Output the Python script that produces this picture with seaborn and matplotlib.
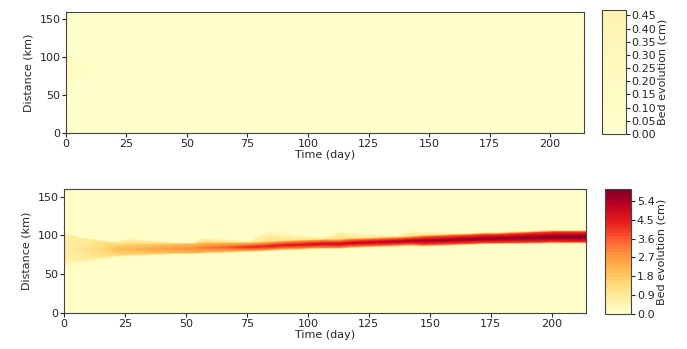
import numpy as np
import matplotlib
matplotlib.use("Agg")
import matplotlib.pyplot as plt
import seaborn as sns

# ---------------------------------------------------------------------------
# values (time anchors, band geometry in km, values in cm)
days   = [0, 8, 22, 26, 45, 53, 57, 76, 84, 88, 106, 113, 117, 136, 143, 147, 166, 173, 177, 200, 214]
centre = [84, 82, 82, 82, 83, 83, 84, 85, 86, 87, 89, 89, 90, 92, 93, 93, 95, 96, 96, 98, 98]
half_w = [16, 12, 6, 6, 5, 5, 5, 4, 4, 4, 4, 4, 4, 4, 4, 5, 5, 5, 5, 6, 6]
lower  = [56, 64, 72, 73, 76, 76, 77, 79, 80, 81, 83, 83, 84, 86, 87, 86, 88, 89, 89, 90, 90]
upper  = [102, 96, 92, 97, 90, 90, 98, 92, 109, 106, 97, 107, 105, 100, 107, 105, 103, 104, 104, 107, 107]

# lower panel (cm)
peak = [0.8, 1.0, 2.0, 2.1, 2.7, 2.9, 3.1, 4.1, 4.3, 4.4, 4.7, 4.8, 4.9, 5.1, 5.2, 5.3, 5.5, 5.6, 5.6, 5.8, 5.9]
edge = [0.6, 0.8, 1.5, 1.6, 2.0, 2.1, 2.2, 2.6, 2.7, 2.8, 3.0, 3.0, 3.1, 3.2, 3.3, 3.4, 3.6, 3.7, 3.7, 3.9, 4.0]
halo = [0.9, 0.8, 0.8, 1.2, 0.9, 0.9, 1.2, 0.8, 1.2, 1.1, 0.8, 1.2, 1.1, 0.8, 1.1, 1.0, 0.8, 0.9, 0.9, 0.8, 0.8]

# upper panel (cm), almost nothing happens
top_peak = [0.15, 0.10, 0.05, 0.03, 0.02, 0.02, 0.02, 0.02, 0.02, 0.02, 0.03, 0.04, 0.04, 0.03, 0.05, 0.05, 0.03, 0.04, 0.04, 0.03, 0.02]
top_edge = [0.12, 0.08, 0.03, 0.02, 0.01, 0.01, 0.01, 0.01, 0.01, 0.01, 0.02, 0.03, 0.03, 0.02, 0.03, 0.03, 0.02, 0.03, 0.03, 0.02, 0.01]
top_halo = [0.10, 0.06, 0.02, 0.01, 0.01, 0.01, 0.01, 0.01, 0.01, 0.01, 0.01, 0.02, 0.02, 0.01, 0.02, 0.02, 0.01, 0.02, 0.02, 0.01, 0.01]

xticks = [0, 25, 50, 75, 100, 125, 150, 175, 200]
yticks = [0, 50, 100, 150]
cb_top_ticks = [0.00, 0.05, 0.10, 0.15, 0.20, 0.25, 0.30, 0.35, 0.40, 0.45]
cb_bot_ticks = [0.0, 0.9, 1.8, 2.7, 3.6, 4.5, 5.4]


def build_field(pk, ed, ha):
    n = len(days)
    c = np.array(centre, float)
    w = np.array(half_w, float)
    X = np.tile(np.array(days, float), (8, 1))
    Y = np.vstack([np.zeros(n), lower, c - w, c, c + w, c + w + 2, upper, np.full(n, 160.0)])
    Z = np.vstack([np.zeros(n), np.zeros(n), ed, pk, ed, ha, np.zeros(n), np.zeros(n)])
    return X, Y, Z


# -----------------------------------------------------------------------------
sns.set_style("ticks")
plt.rcParams["font.family"] = ["DejaVu Sans"]
plt.rcParams["font.size"] = 8
plt.rcParams["axes.edgecolor"] = "#444444"

cmap = sns.color_palette("YlOrRd", as_cmap=True)
vmax = 5.95

fig = plt.figure(figsize=(6.87, 3.49), dpi=100)
ax1 = fig.add_axes([0.096, 0.619, 0.754, 0.347])
cax1 = fig.add_axes([0.876, 0.616, 0.035, 0.355])
ax2 = fig.add_axes([0.093, 0.103, 0.760, 0.356])
cax2 = fig.add_axes([0.880, 0.100, 0.039, 0.358])

X, Y, Z = build_field(top_peak, top_edge, top_halo)
cs1 = ax1.contourf(X, Y, Z, levels=np.linspace(0, 0.47, 48), cmap=cmap, vmin=0, vmax=vmax)

X, Y, Z = build_field(peak, edge, halo)
cs2 = ax2.contourf(X, Y, Z, levels=np.linspace(0, vmax, 41), cmap=cmap, vmin=0, vmax=vmax)

for ax in (ax1, ax2):
    ax.set_xlim(0, 214)
    ax.set_ylim(0, 160)
    ax.set_xticks(xticks)
    ax.set_yticks(yticks)
    ax.set_xlabel("Time (day)", labelpad=1)
    ax.set_ylabel("Distance (km)")
    ax.tick_params(labelsize=8, length=3, pad=1)

cb1 = fig.colorbar(cs1, cax=cax1, ticks=cb_top_ticks, format="%.2f")
cb1.set_label("Bed evolution (cm)", fontsize=8, labelpad=1)
cb2 = fig.colorbar(cs2, cax=cax2, ticks=cb_bot_ticks, format="%.1f")
cb2.set_label("Bed evolution (cm)", fontsize=8, labelpad=1)
for cb in (cb1, cb2):
    cb.ax.tick_params(labelsize=8, length=3, pad=1)
    cb.outline.set_edgecolor("#444444")

fig.savefig("out.png", dpi=100)
